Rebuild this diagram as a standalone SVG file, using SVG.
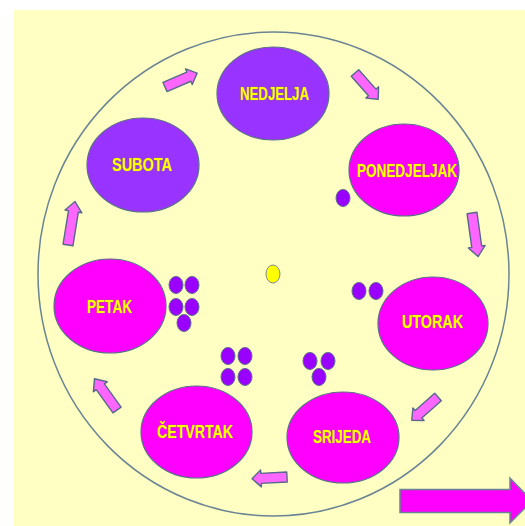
<svg xmlns="http://www.w3.org/2000/svg" width="525" height="526" viewBox="0 0 525 526">
<style>
.day{stroke:#5a6e8a;stroke-width:1.2}
.sun{fill:#9933FF}
.wk{fill:#FF00FF}
.lbl{font-family:"Liberation Sans",Arial,sans-serif;font-weight:bold;font-size:19px;fill:#FFFF00;stroke:#8a7a40;stroke-width:0.6;paint-order:stroke;text-anchor:middle}
.dot{fill:#9900FF;stroke:#5a6e8a;stroke-width:1}
.arr{fill:#FF66FF;stroke:#56698a;stroke-width:1.4;stroke-linejoin:round}
</style>
<defs>
<path id="a35" d="M0,-5 L26,-5 L26,-8.5 L35,0 L26,8.5 L26,5 L0,5 Z"/>
<path id="a44" d="M0,-5 L34,-5 L34,-8.5 L44,0 L34,8.5 L34,5 L0,5 Z"/>
</defs>
<rect x="0" y="0" width="525" height="526" fill="#FFFFFF"/>
<rect x="14" y="10" width="511" height="516" fill="#FFFFC4"/>
<ellipse cx="273.5" cy="274" rx="235.5" ry="242" fill="none" stroke="#6a8494" stroke-width="1.5"/>
<ellipse cx="273" cy="274" rx="7" ry="9" fill="#FFFF00" stroke="#7a8a8a" stroke-width="1"/>

<g id="connectors">
<use href="#a35" class="arr" transform="translate(165,87) rotate(-23.4)"/>
<use href="#a35" class="arr" transform="translate(355,73) rotate(48.5)"/>
<use href="#a44" class="arr" transform="translate(472,213) rotate(82)"/>
<use href="#a35" class="arr" transform="translate(438,397) rotate(138.5)"/>
<use href="#a35" class="arr" transform="translate(287,477) rotate(177)"/>
<use href="#a35" class="arr" transform="translate(117,410) rotate(-125.7) scale(1.1,1)"/>
<use href="#a44" class="arr" transform="translate(68,245) rotate(-80.8)"/>
</g>

<g id="nedjelja"><ellipse class="day sun" cx="273" cy="93.5" rx="56" ry="46.5"/><text class="lbl" x="274.5" y="100" textLength="69" lengthAdjust="spacingAndGlyphs">NEDJELJA</text></g>
<g id="subota"><ellipse class="day sun" cx="143" cy="165" rx="56" ry="47"/><text class="lbl" x="142" y="171" textLength="60" lengthAdjust="spacingAndGlyphs">SUBOTA</text></g>
<g id="ponedjeljak"><ellipse class="day wk" cx="404" cy="170" rx="55" ry="46"/><text class="lbl" x="407" y="177" textLength="100" lengthAdjust="spacingAndGlyphs">PONEDJELJAK</text></g>
<g id="petak"><ellipse class="day wk" cx="110" cy="306" rx="56" ry="47"/><text class="lbl" x="109.5" y="313" textLength="45" lengthAdjust="spacingAndGlyphs">PETAK</text></g>
<g id="utorak"><ellipse class="day wk" cx="433" cy="323.5" rx="55" ry="46.5"/><text class="lbl" x="432.5" y="328" textLength="61" lengthAdjust="spacingAndGlyphs">UTORAK</text></g>
<g id="cetvrtak"><ellipse class="day wk" cx="196.5" cy="432" rx="55.5" ry="46"/><text class="lbl" x="195" y="438" textLength="76" lengthAdjust="spacingAndGlyphs">ČETVRTAK</text></g>
<g id="srijeda"><ellipse class="day wk" cx="343" cy="437.5" rx="56" ry="45.5"/><text class="lbl" x="342" y="443" textLength="58" lengthAdjust="spacingAndGlyphs">SRIJEDA</text></g>

<g id="dots">
<ellipse class="dot" cx="343" cy="198" rx="7" ry="8.5"/>
<ellipse class="dot" cx="359" cy="291" rx="7" ry="8.5"/>
<ellipse class="dot" cx="376" cy="291" rx="7" ry="8.5"/>
<ellipse class="dot" cx="176" cy="285" rx="7" ry="8.5"/>
<ellipse class="dot" cx="192" cy="285" rx="7" ry="8.5"/>
<ellipse class="dot" cx="176" cy="307" rx="7" ry="8.5"/>
<ellipse class="dot" cx="192" cy="307" rx="7" ry="8.5"/>
<ellipse class="dot" cx="184" cy="323" rx="7" ry="8.5"/>
<ellipse class="dot" cx="228" cy="356" rx="7" ry="8.5"/>
<ellipse class="dot" cx="245" cy="356" rx="7" ry="8.5"/>
<ellipse class="dot" cx="228" cy="377" rx="7" ry="8.5"/>
<ellipse class="dot" cx="245" cy="377" rx="7" ry="8.5"/>
<ellipse class="dot" cx="310" cy="361" rx="7" ry="8.5"/>
<ellipse class="dot" cx="328" cy="361" rx="7" ry="8.5"/>
<ellipse class="dot" cx="319" cy="377" rx="7" ry="8.5"/>
</g>

<g id="big-arrow">
<path d="M400,489.5 L510,489.5 L510,478 L532,501 L510,523 L510,512.5 L400,512.5 Z" fill="#FF00FF" stroke="#6a8494" stroke-width="1.5"/>
</g>
</svg>
